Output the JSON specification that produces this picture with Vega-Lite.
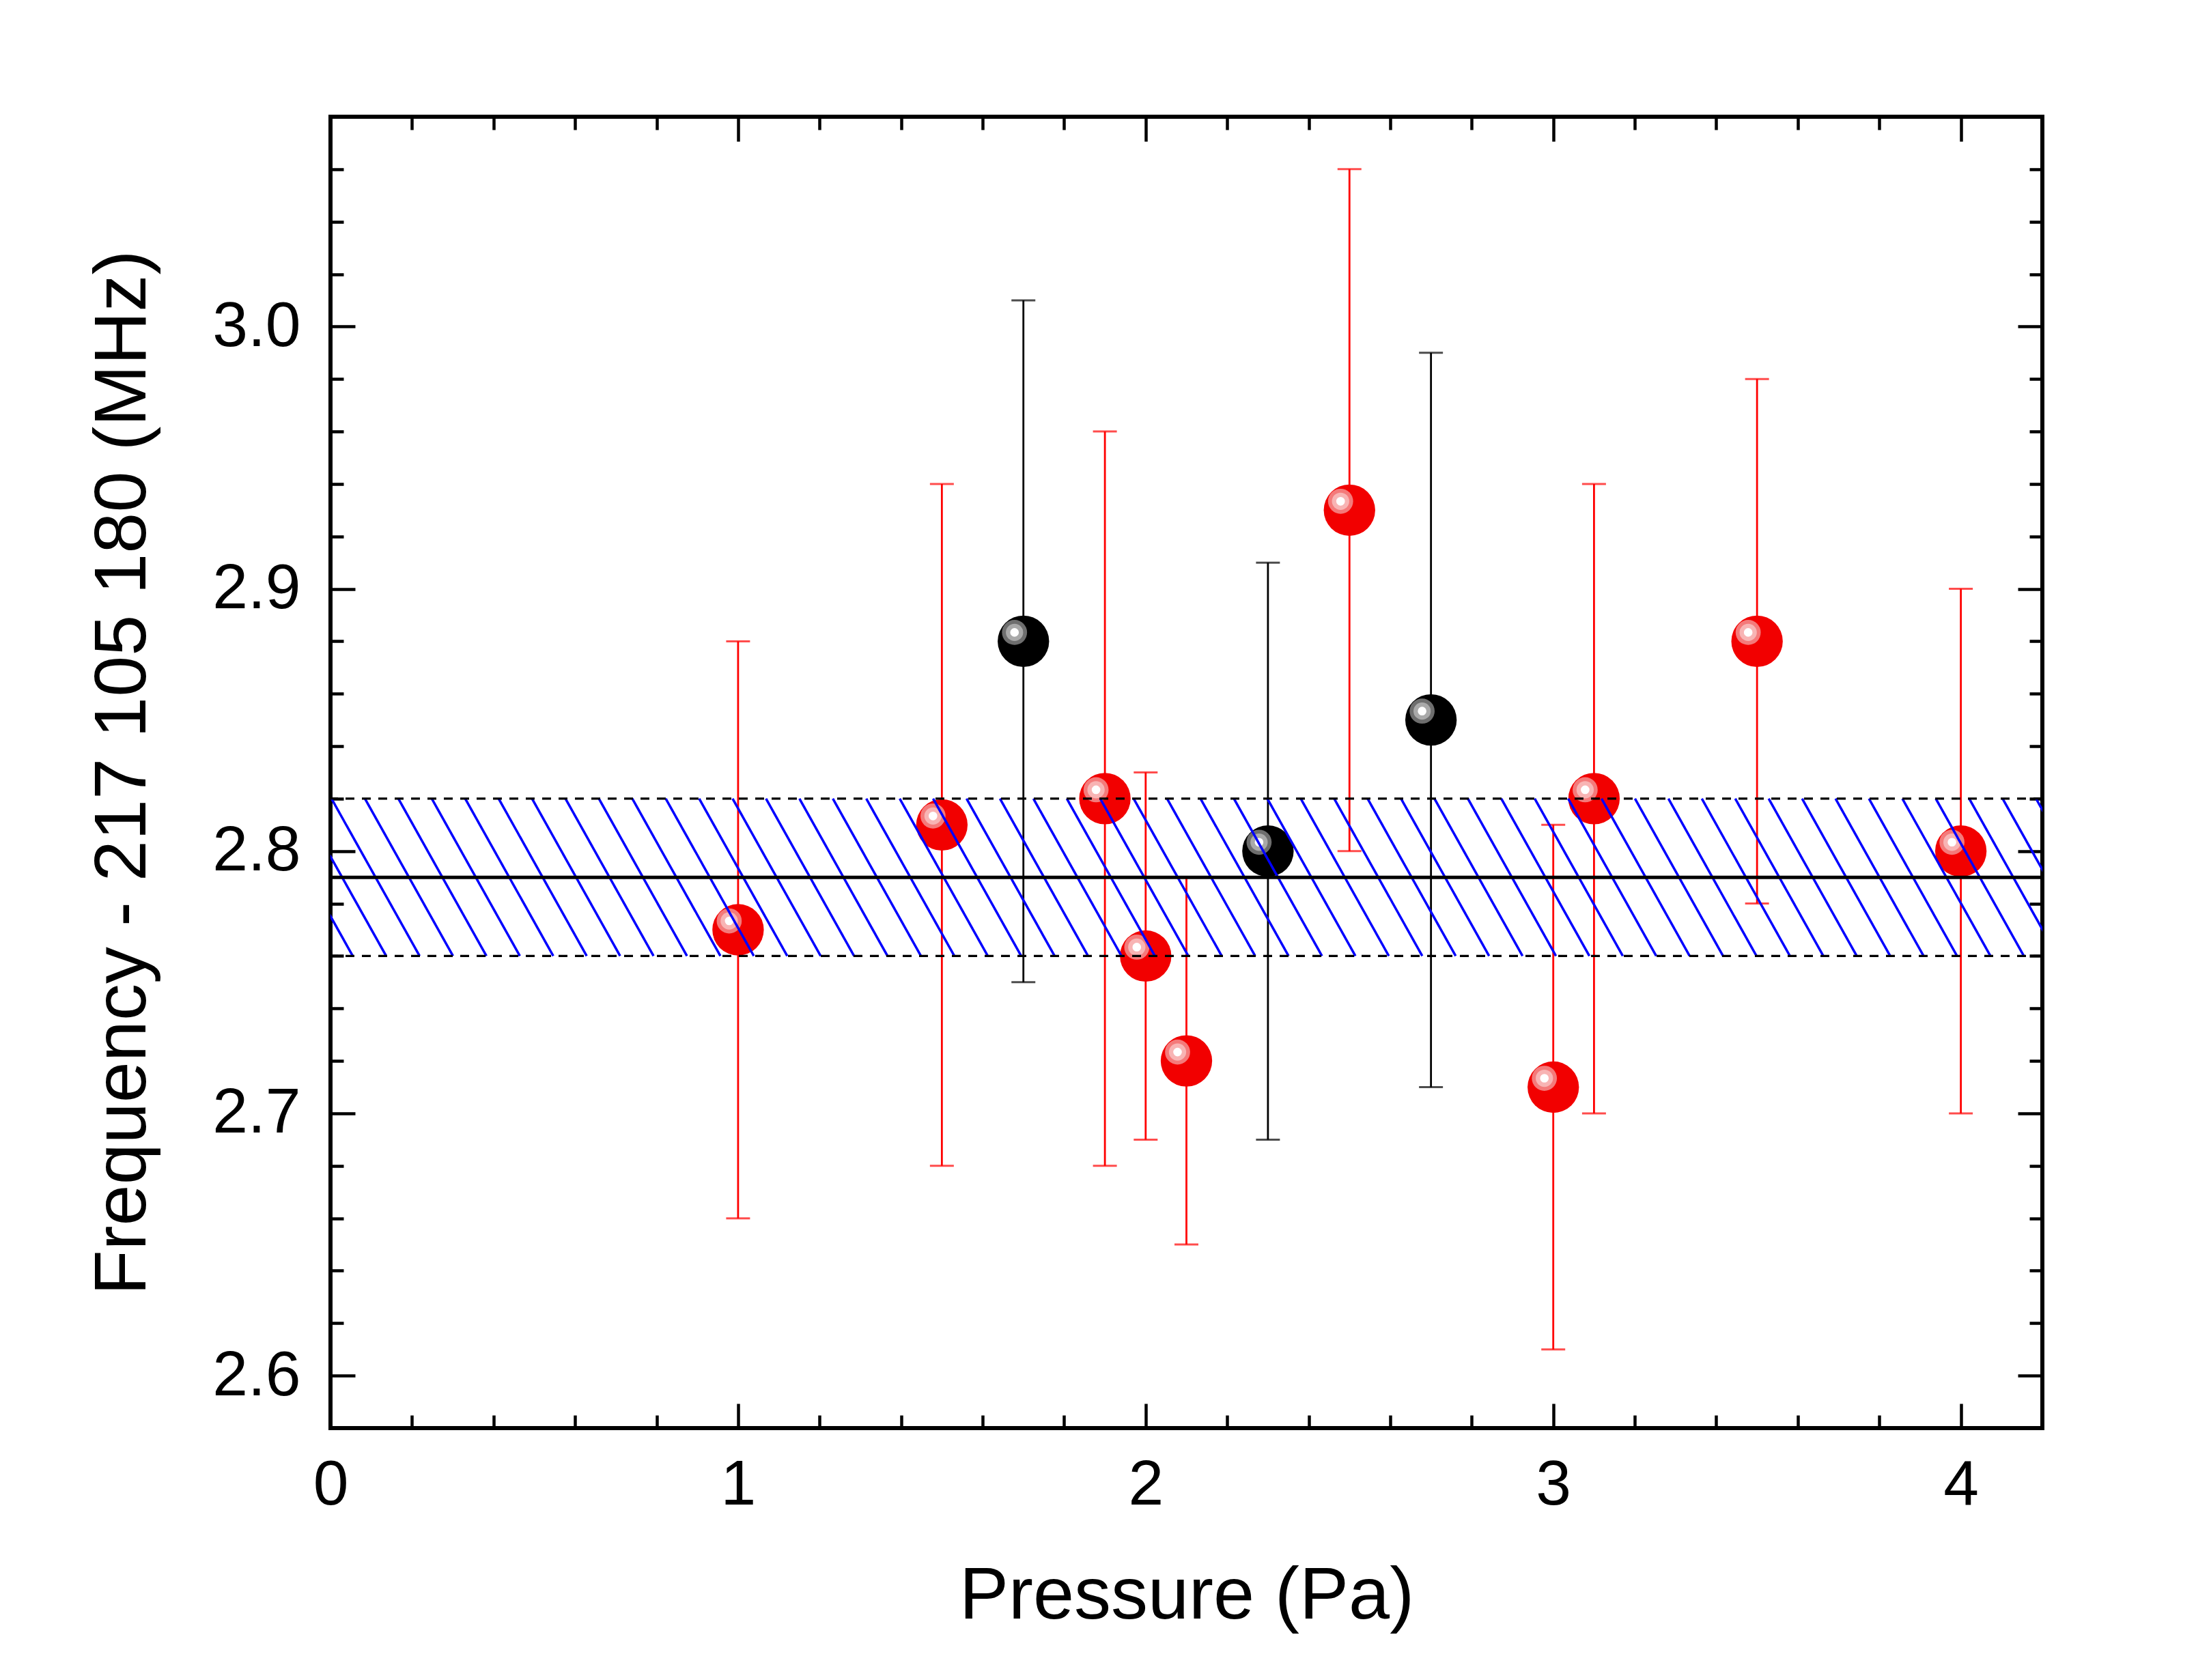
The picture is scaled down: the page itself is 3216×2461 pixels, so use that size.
{
  "$schema": "https://vega.github.io/schema/vega-lite/v6.json",
  "width": 2507,
  "height": 1921,
  "autosize": {"type": "none"},
  "padding": {"left": 484, "top": 171, "right": 225, "bottom": 369},
  "background": "white",
  "config": {
    "view": {"stroke": "black", "strokeWidth": 6},
    "axis": {
      "labelFont": "Liberation Sans",
      "titleFont": "Liberation Sans",
      "labelFontSize": 93,
      "titleFontSize": 108,
      "labelColor": "black",
      "titleColor": "black",
      "titleFontWeight": "normal",
      "tickColor": "black",
      "tickWidth": 4.5,
      "labelFlush": false,
      "labelOverlap": false,
      "domain": false,
      "grid": false
    }
  },
  "datasets": {
    "points": [
      {"p": 1.0, "f": 2.77, "lo": 2.66, "hi": 2.88, "group": "red"},
      {"p": 1.5, "f": 2.81, "lo": 2.68, "hi": 2.94, "group": "red"},
      {"p": 1.7, "f": 2.88, "lo": 2.75, "hi": 3.01, "group": "black"},
      {"p": 1.9, "f": 2.82, "lo": 2.68, "hi": 2.96, "group": "red"},
      {"p": 2.0, "f": 2.76, "lo": 2.69, "hi": 2.83, "group": "red"},
      {"p": 2.1, "f": 2.72, "lo": 2.65, "hi": 2.79, "group": "red"},
      {"p": 2.3, "f": 2.80, "lo": 2.69, "hi": 2.91, "group": "black"},
      {"p": 2.5, "f": 2.93, "lo": 2.80, "hi": 3.06, "group": "red"},
      {"p": 2.7, "f": 2.85, "lo": 2.71, "hi": 2.99, "group": "black"},
      {"p": 3.0, "f": 2.71, "lo": 2.61, "hi": 2.81, "group": "red"},
      {"p": 3.1, "f": 2.82, "lo": 2.70, "hi": 2.94, "group": "red"},
      {"p": 3.5, "f": 2.88, "lo": 2.78, "hi": 2.98, "group": "red"},
      {"p": 4.0, "f": 2.80, "lo": 2.70, "hi": 2.90, "group": "red"}
    ],
    "hatch": [
      {"a": -0.1615, "b": 0.0546}, {"a": -0.0795, "b": 0.1366},
      {"a": 0.0025, "b": 0.2186}, {"a": 0.0845, "b": 0.3006},
      {"a": 0.1665, "b": 0.3826}, {"a": 0.2485, "b": 0.4646},
      {"a": 0.3305, "b": 0.5466}, {"a": 0.4125, "b": 0.6286},
      {"a": 0.4945, "b": 0.7106}, {"a": 0.5765, "b": 0.7926},
      {"a": 0.6585, "b": 0.8746}, {"a": 0.7405, "b": 0.9566},
      {"a": 0.8225, "b": 1.0386}, {"a": 0.9045, "b": 1.1206},
      {"a": 0.9865, "b": 1.2026}, {"a": 1.0685, "b": 1.2846},
      {"a": 1.1505, "b": 1.3666}, {"a": 1.2325, "b": 1.4486},
      {"a": 1.3145, "b": 1.5306}, {"a": 1.3965, "b": 1.6126},
      {"a": 1.4785, "b": 1.6946}, {"a": 1.5605, "b": 1.7766},
      {"a": 1.6425, "b": 1.8586}, {"a": 1.7245, "b": 1.9406},
      {"a": 1.8065, "b": 2.0226}, {"a": 1.8885, "b": 2.1046},
      {"a": 1.9705, "b": 2.1866}, {"a": 2.0525, "b": 2.2686},
      {"a": 2.1345, "b": 2.3506}, {"a": 2.2165, "b": 2.4326},
      {"a": 2.2985, "b": 2.5146}, {"a": 2.3805, "b": 2.5966},
      {"a": 2.4625, "b": 2.6786}, {"a": 2.5445, "b": 2.7606},
      {"a": 2.6265, "b": 2.8426}, {"a": 2.7085, "b": 2.9246},
      {"a": 2.7905, "b": 3.0066}, {"a": 2.8725, "b": 3.0886},
      {"a": 2.9545, "b": 3.1706}, {"a": 3.0365, "b": 3.2526},
      {"a": 3.1185, "b": 3.3346}, {"a": 3.2005, "b": 3.4166},
      {"a": 3.2825, "b": 3.4986}, {"a": 3.3645, "b": 3.5806},
      {"a": 3.4465, "b": 3.6626}, {"a": 3.5285, "b": 3.7446},
      {"a": 3.6105, "b": 3.8266}, {"a": 3.6925, "b": 3.9086},
      {"a": 3.7745, "b": 3.9906}, {"a": 3.8565, "b": 4.0726},
      {"a": 3.9385, "b": 4.1546}, {"a": 4.0205, "b": 4.2366},
      {"a": 4.1025, "b": 4.3186}, {"a": 4.1845, "b": 4.4006}
    ],
    "band": [{"level": 2.76}, {"level": 2.82}]
  },
  "resolve": {"axis": {"x": "independent", "y": "independent"}},
  "layer": [
    {
      "data": {"name": "points"},
      "mark": {"type": "rule", "strokeWidth": 2.8},
      "encoding": {
        "x": {
          "field": "p", "type": "quantitative",
          "scale": {"domain": [0, 4.2], "nice": false, "zero": false},
          "axis": {
            "orient": "bottom", "values": [0, 1, 2, 3, 4], "format": "d",
            "tickSize": -36, "labelPadding": 74, "title": "Pressure (Pa)",
            "titlePadding": 63
          }
        },
        "y": {
          "field": "lo", "type": "quantitative",
          "scale": {"domain": [2.58, 3.08], "nice": false, "zero": false},
          "axis": {
            "orient": "left", "values": [2.6, 2.7, 2.8, 2.9, 3.0], "format": ".1f",
            "tickSize": -36, "labelPadding": 80,
            "title": "Frequency - 217 105 180 (MHz)", "titlePadding": 75
          }
        },
        "y2": {"field": "hi"},
        "color": {
          "condition": {"test": "datum.group === 'black'", "value": "#000000"},
          "value": "#ff0000"
        }
      }
    },
    {
      "data": {"name": "points"},
      "mark": {"type": "tick", "orient": "horizontal", "size": 35, "thickness": 3},
      "encoding": {
        "x": {
          "field": "p", "type": "quantitative",
          "scale": {"domain": [0, 4.2], "nice": false, "zero": false},
          "axis": {
            "orient": "bottom",
            "values": [0.2, 0.4, 0.6, 0.8, 1.2, 1.4, 1.6, 1.8, 2.2, 2.4, 2.6, 2.8, 3.2, 3.4, 3.6, 3.8, 4.2],
            "tickSize": -19, "labels": false, "title": null
          }
        },
        "y": {
          "field": "lo", "type": "quantitative",
          "scale": {"domain": [2.58, 3.08], "nice": false, "zero": false},
          "axis": {
            "orient": "left",
            "values": [2.62, 2.64, 2.66, 2.68, 2.72, 2.74, 2.76, 2.78, 2.82, 2.84, 2.86, 2.88, 2.92, 2.94, 2.96, 2.98, 3.02, 3.04, 3.06],
            "tickSize": -19, "labels": false, "title": null
          }
        },
        "color": {
          "condition": {"test": "datum.group === 'black'", "value": "#000000"},
          "value": "#ff0000"
        }
      }
    },
    {
      "data": {"name": "points"},
      "mark": {"type": "tick", "orient": "horizontal", "size": 35, "thickness": 3},
      "encoding": {
        "x": {
          "field": "p", "type": "quantitative",
          "scale": {"domain": [0, 4.2], "nice": false, "zero": false},
          "axis": {
            "orient": "top", "values": [0, 1, 2, 3, 4],
            "tickSize": -36, "labels": false, "title": null
          }
        },
        "y": {
          "field": "hi", "type": "quantitative",
          "scale": {"domain": [2.58, 3.08], "nice": false, "zero": false},
          "axis": {
            "orient": "right", "values": [2.6, 2.7, 2.8, 2.9, 3.0],
            "tickSize": -36, "labels": false, "title": null
          }
        },
        "color": {
          "condition": {"test": "datum.group === 'black'", "value": "#000000"},
          "value": "#ff0000"
        }
      }
    },
    {
      "data": {"name": "points"},
      "mark": {"type": "circle", "size": 5675, "opacity": 1},
      "encoding": {
        "x": {
          "field": "p", "type": "quantitative",
          "scale": {"domain": [0, 4.2], "nice": false, "zero": false},
          "axis": {
            "orient": "top",
            "values": [0.2, 0.4, 0.6, 0.8, 1.2, 1.4, 1.6, 1.8, 2.2, 2.4, 2.6, 2.8, 3.2, 3.4, 3.6, 3.8, 4.2],
            "tickSize": -19, "labels": false, "title": null
          }
        },
        "y": {
          "field": "f", "type": "quantitative",
          "scale": {"domain": [2.58, 3.08], "nice": false, "zero": false},
          "axis": {
            "orient": "right",
            "values": [2.62, 2.64, 2.66, 2.68, 2.72, 2.74, 2.76, 2.78, 2.82, 2.84, 2.86, 2.88, 2.92, 2.94, 2.96, 2.98, 3.02, 3.04, 3.06],
            "tickSize": -19, "labels": false, "title": null
          }
        },
        "color": {
          "condition": {"test": "datum.group === 'black'", "value": "#000000"},
          "value": "#f20000"
        }
      }
    },
    {
      "data": {"name": "points"},
      "mark": {"type": "circle", "size": 1350, "opacity": 1, "xOffset": -13, "yOffset": -13},
      "encoding": {
        "x": {"field": "p", "type": "quantitative", "scale": {"domain": [0, 4.2], "nice": false, "zero": false}, "axis": null},
        "y": {"field": "f", "type": "quantitative", "scale": {"domain": [2.58, 3.08], "nice": false, "zero": false}, "axis": null},
        "color": {
          "condition": {"test": "datum.group === 'black'", "value": "#6e6e6e"},
          "value": "#f47a7a"
        }
      }
    },
    {
      "data": {"name": "points"},
      "mark": {"type": "circle", "size": 640, "opacity": 1, "xOffset": -13, "yOffset": -13},
      "encoding": {
        "x": {"field": "p", "type": "quantitative", "scale": {"domain": [0, 4.2], "nice": false, "zero": false}, "axis": null},
        "y": {"field": "f", "type": "quantitative", "scale": {"domain": [2.58, 3.08], "nice": false, "zero": false}, "axis": null},
        "color": {
          "condition": {"test": "datum.group === 'black'", "value": "#a9a9a9"},
          "value": "#f8b4b4"
        }
      }
    },
    {
      "data": {"name": "points"},
      "mark": {"type": "circle", "size": 160, "opacity": 1, "xOffset": -13, "yOffset": -13, "color": "white"},
      "encoding": {
        "x": {"field": "p", "type": "quantitative", "scale": {"domain": [0, 4.2], "nice": false, "zero": false}, "axis": null},
        "y": {"field": "f", "type": "quantitative", "scale": {"domain": [2.58, 3.08], "nice": false, "zero": false}, "axis": null}
      }
    },
    {
      "data": {"name": "hatch"},
      "mark": {"type": "rule", "color": "#0000ff", "strokeWidth": 3.5, "clip": true},
      "encoding": {
        "x": {"field": "a", "type": "quantitative", "scale": {"domain": [0, 4.2], "nice": false, "zero": false}, "axis": null},
        "x2": {"field": "b"},
        "y": {"datum": 2.82, "type": "quantitative", "scale": {"domain": [2.58, 3.08], "nice": false, "zero": false}, "axis": null},
        "y2": {"datum": 2.76}
      }
    },
    {
      "data": {"name": "band"},
      "mark": {"type": "rule", "color": "black", "strokeWidth": 3.3, "strokeDash": [13, 11]},
      "encoding": {
        "y": {"field": "level", "type": "quantitative", "scale": {"domain": [2.58, 3.08], "nice": false, "zero": false}, "axis": null}
      }
    },
    {
      "data": {"values": [{"mean": 2.79}]},
      "mark": {"type": "rule", "color": "black", "strokeWidth": 5},
      "encoding": {
        "y": {"field": "mean", "type": "quantitative", "scale": {"domain": [2.58, 3.08], "nice": false, "zero": false}, "axis": null}
      }
    }
  ]
}
